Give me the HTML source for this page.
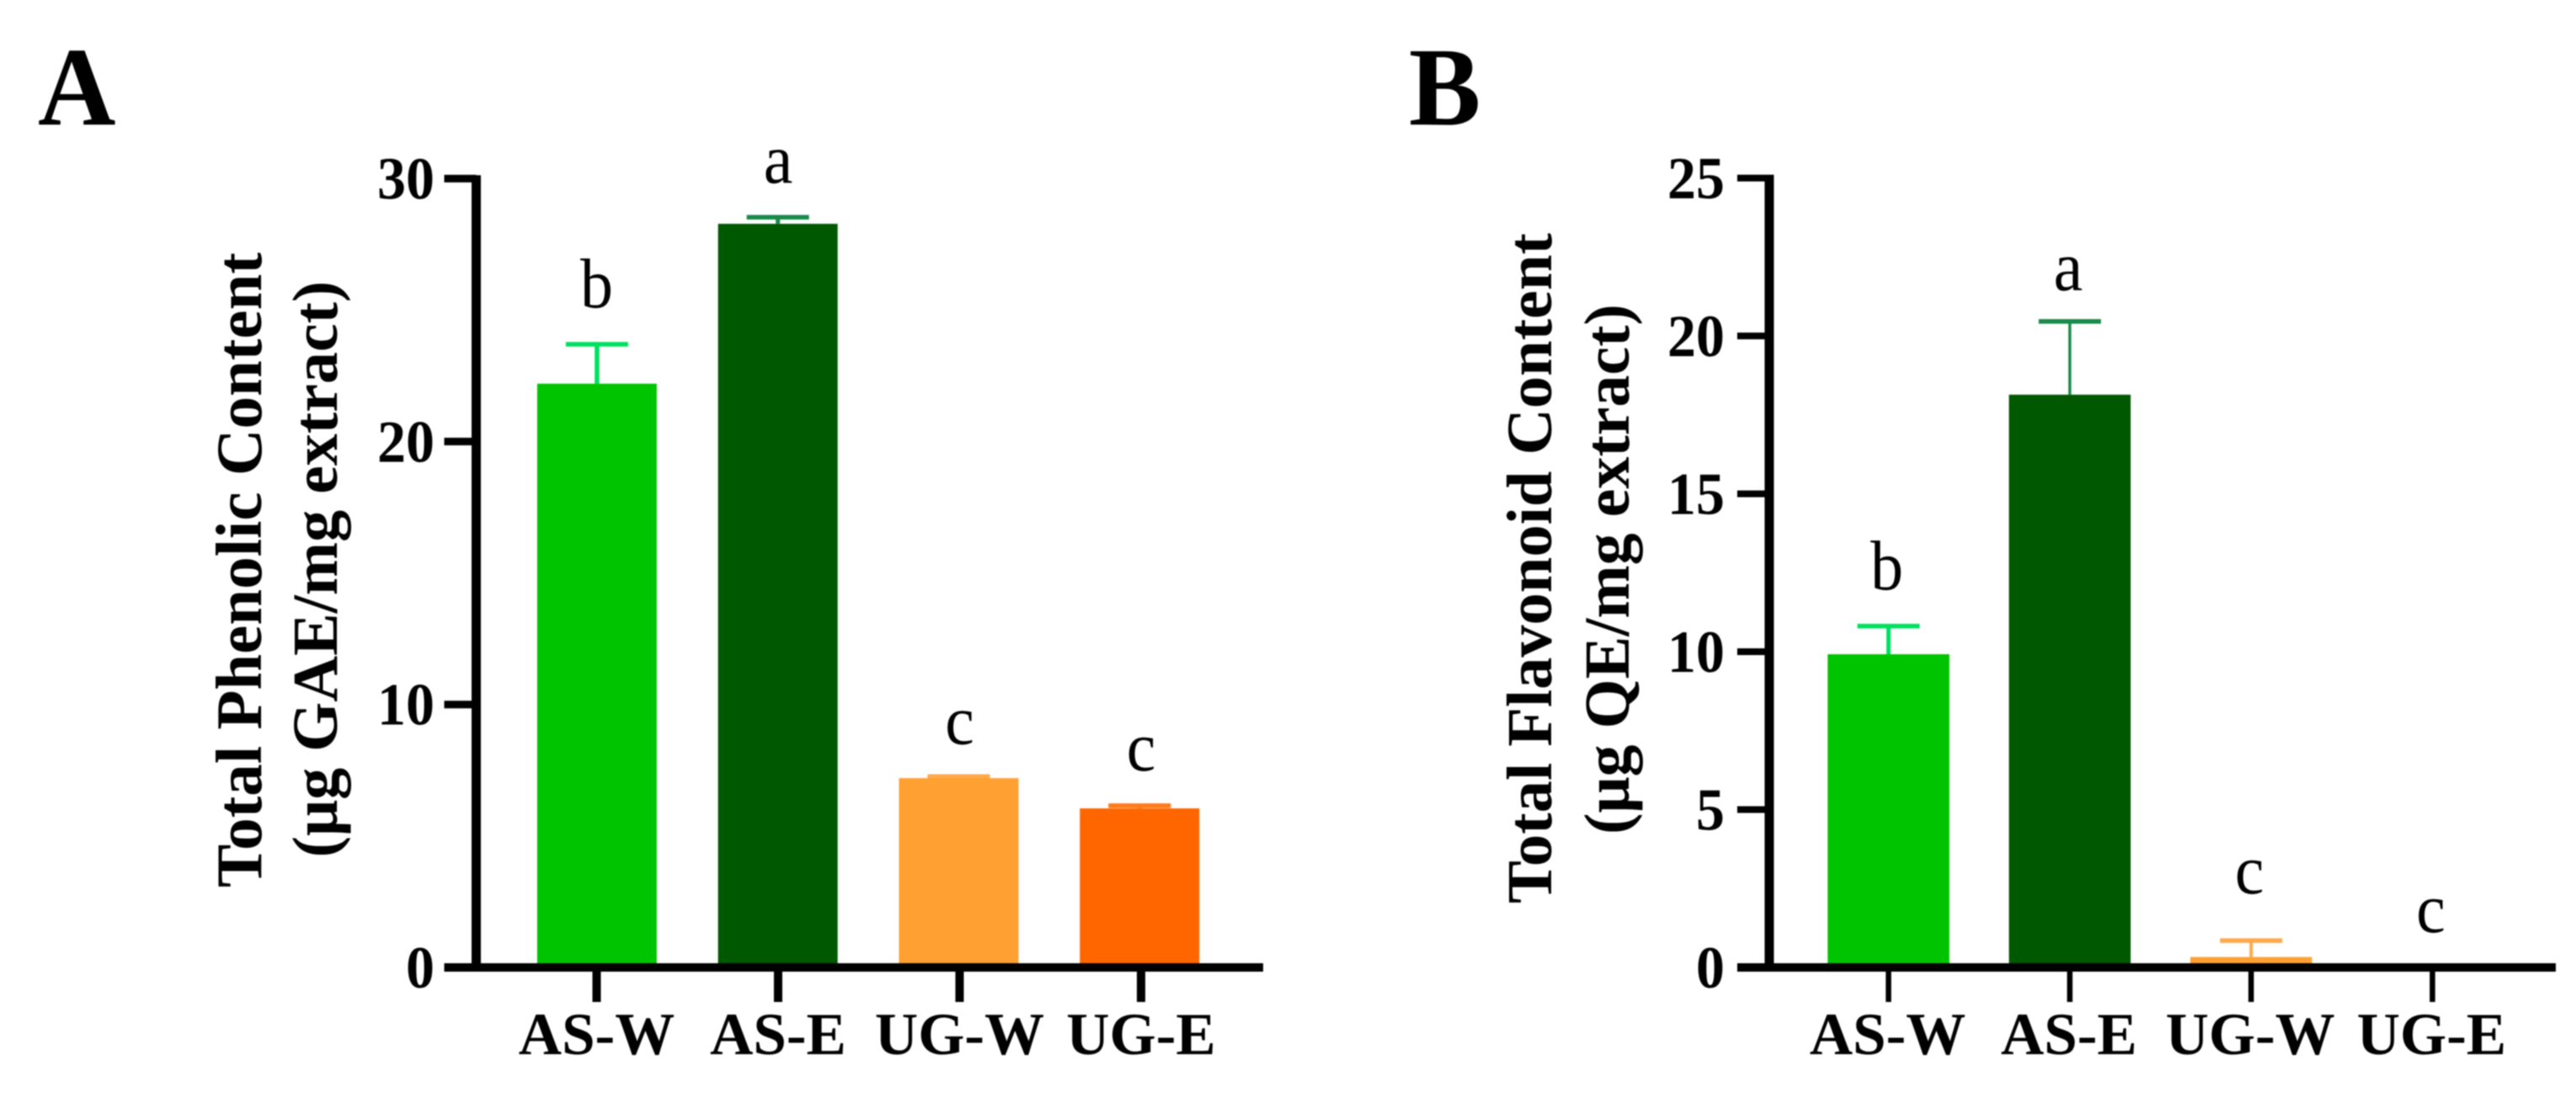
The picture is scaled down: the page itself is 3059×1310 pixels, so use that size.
<!DOCTYPE html>
<html lang="en">
<head>
<meta charset="utf-8">
<title>Total Phenolic and Flavonoid Content</title>
<style>
  html, body { margin: 0; padding: 0; background: #fff; width: 3059px; height: 1310px; overflow: hidden; }
  svg { display: block; filter: blur(0.7px); }
  text { font-family: "Liberation Serif", serif; fill: #000; }
  .bold { font-weight: bold; }
  .title { font-weight: bold; font-size: 76px; }
  .panel { font-weight: bold; font-size: 128px; }
</style>
</head>
<body>
<svg id="figure" xmlns="http://www.w3.org/2000/svg" width="3059" height="1310" viewBox="0 0 3059 1310">
  <rect x="0" y="0" width="3059" height="1310" fill="#ffffff"/>
  <text class="panel" transform="translate(45,148) scale(1,1.04)">A</text>
  <text class="panel" transform="translate(1673,148) scale(1,1.04)">B</text>
  <text class="title" style="font-size:77px" text-anchor="middle" transform="translate(310,677) rotate(-90)">Total Phenolic Content</text>
  <text class="title" text-anchor="middle" transform="translate(400,676) rotate(-90)">(μg GAE/mg extract)</text>
  <text class="title" style="font-size:76.5px" text-anchor="middle" transform="translate(1842,675) rotate(-90)">Total Flavonoid Content</text>
  <text class="title" text-anchor="middle" transform="translate(1934,676) rotate(-90)">(μg QE/mg extract)</text>
  <g id="panel-a"></g>
  <g id="panel-b"></g>
</svg>
<script>
const categories = ['AS-W', 'AS-E', 'UG-W', 'UG-E'];

const phenolicValues = [22.2, 28.28, 7.2, 6.05];
const phenolicErrors = [1.5, 0.25, 0.06, 0.1];
const phenolicLetters = ['b', 'a', 'c', 'c'];
const phenolicLetterLevels = [25.1, 29.85, 8.5, 7.5];
const phenolicTicks = [0, 10, 20, 30];

const flavonoidValues = [9.92, 18.14, 0.33, 0];
const flavonoidErrors = [0.89, 2.32, 0.52, 0];
const flavonoidLetters = ['b', 'a', 'c', 'c'];
const flavonoidLetterLevels = [11.98, 21.45, 2.35, 1.12];
const flavonoidTicks = [0, 5, 10, 15, 20, 25];

const barFills = ['#00c400', '#005800', '#ffa033', '#ff6600'];
const errorColours = ['#00e060', '#1a8a4a', '#ffa94d', '#ff7a1a'];

const SVG_NS = 'http://www.w3.org/2000/svg';

function make(tag, attrs, parent, content) {
  const el = document.createElementNS(SVG_NS, tag);
  for (const key in attrs) {
    el.setAttribute(key, attrs[key]);
  }
  if (content !== undefined) {
    el.textContent = content;
  }
  parent.appendChild(el);
  return el;
}

function drawPanel(parent, panelKey, cfg, values, errors, letters, letterLevels, ticks) {
  const yScale = function (v) { return cfg.zeroY - v * cfg.unit; };
  const xScale = function (i) { return cfg.firstX + i * cfg.stepX; };
  const barScale = function (i) { return cfg.firstBarX + i * cfg.barStep; };

  categories.forEach(function (cat, i) {
    const cx = barScale(i);
    const tx = xScale(i);
    const top = yScale(values[i]);

    if (errors[i] > 0) {
      const errTop = yScale(values[i] + errors[i]);
      const stem = make('line', { x1: cx, x2: cx, y1: top, y2: errTop, stroke: errorColours[i], 'stroke-width': cfg.stemWidth[i] }, parent);
      
      
      const cap = make('line', { x1: cx - 37, x2: cx + 37, y1: errTop, y2: errTop, stroke: errorColours[i], 'stroke-width': 5.5 }, parent);
      
      
    }

    if (values[i] > 0) {
      const bar = make('rect', { x: cx - cfg.barWidth / 2, y: top, width: cfg.barWidth, height: cfg.zeroY - top, fill: barFills[i] }, parent);
      
      
    }

    const letter = make('text', {
      'text-anchor': 'middle',
      'font-size': 78,
      transform: 'translate(' + (tx + cfg.letterShift) + ',' + yScale(letterLevels[i]) + ') scale(1,1.08)'
    }, parent, letters[i]);
    
    

    const tick = make('line', { x1: tx, x2: tx, y1: cfg.zeroY, y2: 1190, stroke: '#000', 'stroke-width': cfg.xTickWidth }, parent);
    
    

    const label = make('text', { class: 'bold', x: tx + cfg.labelShift, y: 1252, 'text-anchor': 'middle', 'font-size': 71 }, parent, cat);
    
    
  });

  ticks.forEach(function (t) {
    const y = yScale(t);
    const tickMark = make('line', { x1: cfg.axisX - 38, x2: cfg.axisX, y1: y, y2: y, stroke: '#000', 'stroke-width': cfg.yTickWidth }, parent);
    
    

    const tickLabel = make('text', {
      class: 'bold',
      'text-anchor': 'end',
      'font-size': 68,
      transform: 'translate(' + cfg.tickLabelX + ',' + (y + 24) + ') scale(1,1.05)'
    }, parent, String(t));
    
    
  });

  const yTop = yScale(ticks[ticks.length - 1]) - 4;
  const yAxis = make('line', { x1: cfg.axisX, x2: cfg.axisX, y1: yTop, y2: cfg.zeroY, stroke: '#000', 'stroke-width': 11 }, parent);
  
  

  const xAxis = make('line', { x1: cfg.axisX - 38, x2: cfg.axisEnd, y1: cfg.zeroY, y2: cfg.zeroY, stroke: '#000', 'stroke-width': 10 }, parent);
  
  
}

drawPanel(document.getElementById('panel-a'), 'a', {
  zeroY: 1149, unit: 31.23, firstX: 708.5, stepX: 215.5,
  firstBarX: 708.9, barStep: 214.8, barWidth: 142,
  axisX: 565.5, axisEnd: 1500, tickLabelX: 516, xTickWidth: 10, yTickWidth: 9,
  labelShift: 0, letterShift: 0, stemWidth: [5.5, 5, 5, 5]
}, phenolicValues, phenolicErrors, phenolicLetters, phenolicLetterLevels, phenolicTicks);

drawPanel(document.getElementById('panel-b'), 'b', {
  zeroY: 1149, unit: 37.5, firstX: 2242.6, stepX: 215.3,
  firstBarX: 2242.6, barStep: 215.3, barWidth: 144.5,
  axisX: 2101, axisEnd: 3035, tickLabelX: 2048, xTickWidth: 6.5, yTickWidth: 8,
  labelShift: -1, letterShift: -2, stemWidth: [5, 3.5, 4, 4]
}, flavonoidValues, flavonoidErrors, flavonoidLetters, flavonoidLetterLevels, flavonoidTicks);
</script>
</body>
</html>
